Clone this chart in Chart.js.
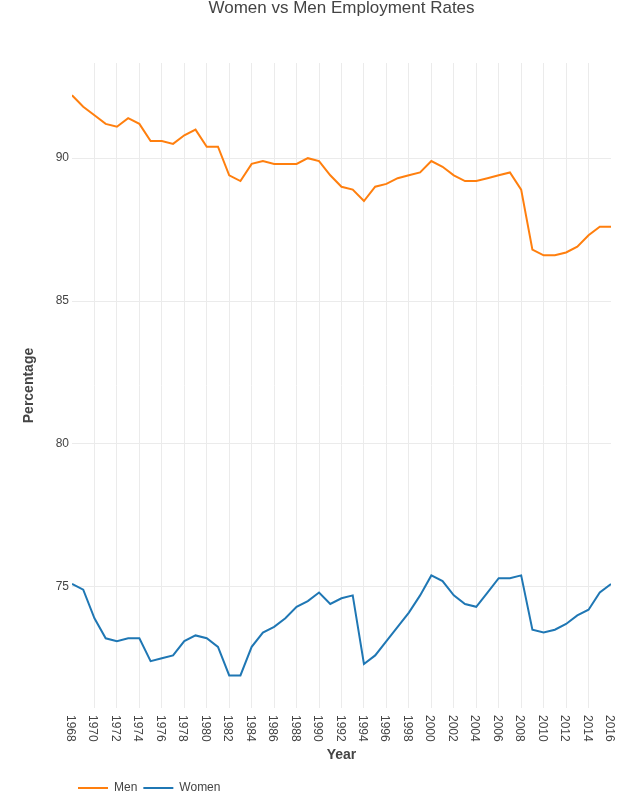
<!DOCTYPE html>
<html>
<head>
<meta charset="utf-8">
<title>Women vs Men Employment Rates</title>
<script src="https://cdn.jsdelivr.net/npm/chart.js@4"></script>
<style>
  html, body { margin: 0; padding: 0; background: #fff; }
  #wrap { width: 642px; height: 800px; }
</style>
</head>
<body>
<div id="wrap"><canvas id="chart" width="642" height="800"></canvas></div>
<script>
// data
const years = [
  1968, 1969, 1970, 1971, 1972, 1973, 1974, 1975, 1976, 1977,
  1978, 1979, 1980, 1981, 1982, 1983, 1984, 1985, 1986, 1987,
  1988, 1989, 1990, 1991, 1992, 1993, 1994, 1995, 1996, 1997,
  1998, 1999, 2000, 2001, 2002, 2003, 2004, 2005, 2006, 2007,
  2008, 2009, 2010, 2011, 2012, 2013, 2014, 2015, 2016
];
const menRates = [
  92.2, 91.8, 91.5, 91.2, 91.1, 91.4, 91.2, 90.6, 90.6, 90.5,
  90.8, 91.0, 90.4, 90.4, 89.4, 89.2, 89.8, 89.9, 89.8, 89.8,
  89.8, 90.0, 89.9, 89.4, 89.0, 88.9, 88.5, 89.0, 89.1, 89.3,
  89.4, 89.5, 89.9, 89.7, 89.4, 89.2, 89.2, 89.3, 89.4, 89.5,
  88.9, 86.8, 86.6, 86.6, 86.7, 86.9, 87.3, 87.6, 87.6
];
const womenRates = [
  75.1, 74.9, 73.9, 73.2, 73.1, 73.2, 73.2, 72.4, 72.5, 72.6,
  73.1, 73.3, 73.2, 72.9, 71.9, 71.9, 72.9, 73.4, 73.6, 73.9,
  74.3, 74.5, 74.8, 74.4, 74.6, 74.7, 72.3, 72.6, 73.1, 73.6,
  74.1, 74.7, 75.4, 75.2, 74.7, 74.4, 74.3, 74.8, 75.3, 75.3,
  75.4, 73.5, 73.4, 73.5, 73.7, 74.0, 74.2, 74.8, 75.1
];
const yTicks = [75, 80, 85, 90];

const FONT = '"Liberation Sans", Arial, sans-serif';
const TEXT = '#444';
const GRID = '#ebebeb';

function toPoints(vals) {
  return years.map((yr, i) => ({ x: yr, y: vals[i] }));
}

// x tick labels read top-to-bottom (rotated clockwise)
const yearLabels = {
  id: 'yearLabels',
  afterDraw(chart) {
    const xs = chart.scales.x;
    const ctx = chart.ctx;
    ctx.save();
    ctx.font = '12px ' + FONT;
    ctx.fillStyle = TEXT;
    ctx.textAlign = 'left';
    ctx.textBaseline = 'alphabetic';
    xs.ticks.forEach(t => {
      const px = xs.getPixelForValue(t.value);
      ctx.save();
      ctx.translate(px - 5, chart.chartArea.bottom + 7);
      ctx.rotate(Math.PI / 2);
      ctx.fillText(String(t.value), 0, 0);
      ctx.restore();
    });
    ctx.restore();
  }
};

const ctx = document.getElementById('chart').getContext('2d');
const chart = new Chart(ctx, {
  type: 'line',
  data: {
    datasets: [{
      label: 'Men',
      data: toPoints(menRates),
      borderColor: '#ff7f0e',
      backgroundColor: '#ff7f0e',
      borderWidth: 2,
      pointRadius: 0,
      tension: 0,
      fill: false
    }, {
      label: 'Women',
      data: toPoints(womenRates),
      borderColor: '#1f77b4',
      backgroundColor: '#1f77b4',
      borderWidth: 2,
      pointRadius: 0,
      tension: 0,
      fill: false
    }]
  },
  options: {
    responsive: false,
    animation: false,
    events: [],
    layout: { padding: { left: 14, right: 31, top: 0, bottom: -4 } },
    plugins: {
      title: {
        display: true,
        text: 'Women vs Men Employment Rates',
        color: TEXT,
        fullSize: false,
        font: { family: FONT, size: 17, weight: 'normal', lineHeight: 1 },
        padding: { top: 0, bottom: 46 }
      },
      legend: {
        position: 'bottom',
        align: 'start',
        fullSize: false,
        labels: {
          boxWidth: 30,
          boxHeight: 2,
          padding: 6,
          color: TEXT,
          font: { family: FONT, size: 12 },
          generateLabels(chart) {
            const items = Chart.defaults.plugins.legend.labels.generateLabels(chart);
            items.forEach(it => { it.lineWidth = 0; });
            return items;
          }
        }
      },
      tooltip: { enabled: false }
    },
    scales: {
      x: {
        type: 'linear',
        min: 1968,
        max: 2016,
        ticks: { display: false, stepSize: 2 },
        grid: {
          drawTicks: false,
          color: c => (c.tick && (c.tick.value === 1968 || c.tick.value === 2016)) ? 'rgba(0,0,0,0)' : GRID
        },
        border: { display: false },
        title: {
          display: true,
          text: 'Year',
          color: TEXT,
          font: { family: FONT, size: 14, weight: 'bold' },
          padding: { top: 0, bottom: 12 }
        },
        afterFit(s) { s.height = 68; }
      },
      y: {
        min: 70.76,
        max: 93.33,
        ticks: {
          stepSize: 5,
          padding: 3,
          color: TEXT,
          font: { family: FONT, size: 12 }
        },
        afterBuildTicks(s) { s.ticks = yTicks.map(v => ({ value: v })); },
        grid: { drawTicks: false, color: GRID },
        border: { display: false },
        title: {
          display: true,
          text: 'Percentage',
          color: TEXT,
          font: { family: FONT, size: 14, weight: 'bold' },
          padding: { top: 7, bottom: 0 }
        },
        afterFit(s) { s.width = 58; }
      }
    }
  },
  plugins: [yearLabels]
});
</script>
</body>
</html>
